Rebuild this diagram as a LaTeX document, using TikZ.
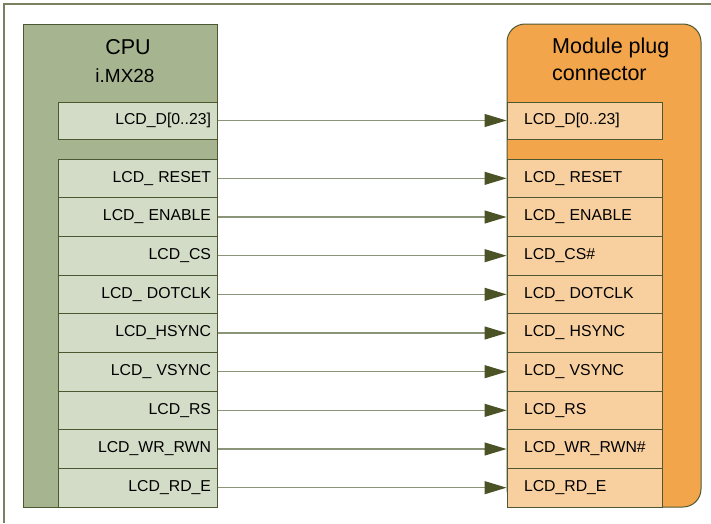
\documentclass[tikz,border=0pt]{standalone}
\usepackage{fontspec}
\setmainfont{Liberation Sans}
\usepackage{tikz}
\usepackage{xcolor}
\usetikzlibrary{positioning}
\usetikzlibrary{arrows.meta}

\definecolor{frameline}{HTML}{7A8060}
\definecolor{olivedark}{HTML}{4E5830}
\definecolor{cpufill}{HTML}{A6B590}
\definecolor{cpupin}{HTML}{D3DCC6}
\definecolor{modfill}{HTML}{F2A54A}
\definecolor{modpin}{HTML}{F8D0A0}
\definecolor{wire}{HTML}{8A9478}
\definecolor{tipc}{HTML}{4A5226}

\begin{document}
\begin{tikzpicture}[
    x=1pt, y=-1pt,
    font=\fontsize{15.8}{18}\selectfont,
    cpupinbox/.style={rectangle, draw=olivedark, line width=1pt, fill=cpupin, minimum width=159pt, minimum height=38.67pt, inner xsep=6pt, text width=147pt, align=right},
    modpinbox/.style={rectangle, draw=olivedark, line width=1pt, fill=modpin, minimum width=155pt, minimum height=38.67pt, inner xsep=17pt, text width=121pt, align=left},
    sig/.style={draw=wire, line width=1.1pt, -{Triangle[length=22pt, width=13pt, color=tipc]}},
    titlelbl/.style={font=\fontsize{21.5}{27}\selectfont}
]
\useasboundingbox (0,0) rectangle (711,523);

% Frame
\draw[frameline, line width=1.3pt] (711,4) -- (4,4) -- (4,523);

% CPU block
\node[rectangle, draw=olivedark, line width=1pt, fill=cpufill, minimum width=194pt, minimum height=483pt, inner sep=0pt] (cpu) at (120,265.5) {};
\node[titlelbl, anchor=base] (cpuname) at (128,54) {CPU};
\node[font=\fontsize{19}{22}\selectfont, anchor=base] (cputype) at (125,82) {i.MX28};

% Module block
\node[rectangle, rounded corners=18pt, draw=olivedark, line width=1pt, fill=modfill, minimum width=194pt, minimum height=483pt, inner sep=0pt] (mod) at (604,265.5) {};
\node[titlelbl, align=left, anchor=north west, inner sep=0pt] (modname) at (552,38) {Module plug\\connector};

% CPU pins
\node[cpupinbox, minimum height=37pt] (cD) at (137.5,120.5) {LCD\_D[0..23]};
\node[cpupinbox] (cReset) at (137.5,178.33) {LCD\_ RESET};
\node[cpupinbox] (cEnable) at (137.5,217) {LCD\_ ENABLE};
\node[cpupinbox] (cCs) at (137.5,255.67) {LCD\_CS};
\node[cpupinbox] (cDotclk) at (137.5,294.33) {LCD\_ DOTCLK};
\node[cpupinbox] (cHsync) at (137.5,333) {LCD\_HSYNC};
\node[cpupinbox] (cVsync) at (137.5,371.67) {LCD\_ VSYNC};
\node[cpupinbox] (cRs) at (137.5,410.33) {LCD\_RS};
\node[cpupinbox] (cWr) at (137.5,449) {LCD\_WR\_RWN};
\node[cpupinbox] (cRd) at (137.5,487.67) {LCD\_RD\_E};

% Module pins
\node[modpinbox, minimum height=37pt] (mD) at (584.5,120.5) {LCD\_D[0..23]};
\node[modpinbox] (mReset) at (584.5,178.33) {LCD\_ RESET};
\node[modpinbox] (mEnable) at (584.5,217) {LCD\_ ENABLE};
\node[modpinbox] (mCs) at (584.5,255.67) {LCD\_CS\#};
\node[modpinbox] (mDotclk) at (584.5,294.33) {LCD\_ DOTCLK};
\node[modpinbox] (mHsync) at (584.5,333) {LCD\_ HSYNC};
\node[modpinbox] (mVsync) at (584.5,371.67) {LCD\_ VSYNC};
\node[modpinbox] (mRs) at (584.5,410.33) {LCD\_RS};
\node[modpinbox] (mWr) at (584.5,449) {LCD\_WR\_RWN\#};
\node[modpinbox] (mRd) at (584.5,487.67) {LCD\_RD\_E};

% Signals
\draw[sig] (cD.east) -- (mD.west);
\draw[sig] (cReset.east) -- (mReset.west);
\draw[sig] (cEnable.east) -- (mEnable.west);
\draw[sig] (cCs.east) -- (mCs.west);
\draw[sig] (cDotclk.east) -- (mDotclk.west);
\draw[sig] (cHsync.east) -- (mHsync.west);
\draw[sig] (cVsync.east) -- (mVsync.west);
\draw[sig] (cRs.east) -- (mRs.west);
\draw[sig] (cWr.east) -- (mWr.west);
\draw[sig] (cRd.east) -- (mRd.west);

\end{tikzpicture}
\end{document}
